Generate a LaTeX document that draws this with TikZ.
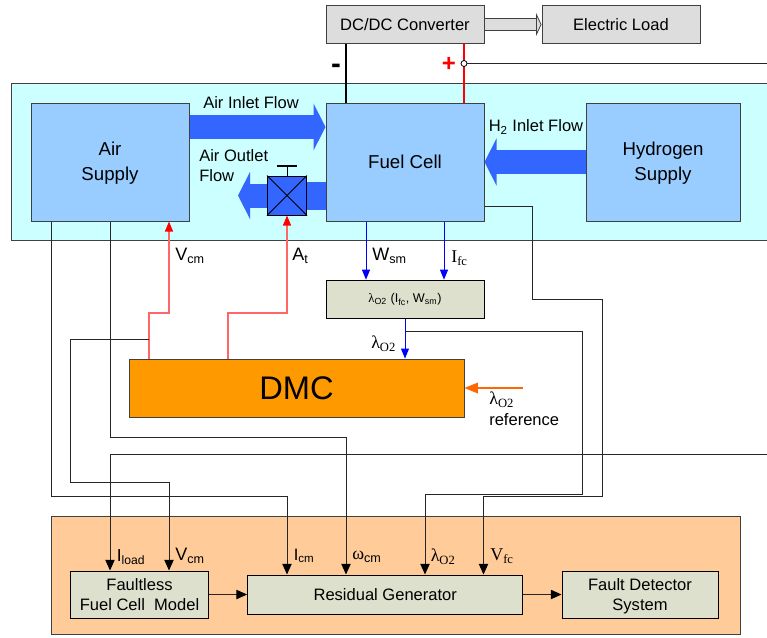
\documentclass[tikz,border=0pt]{standalone}
\usepackage{fontspec}
\usepackage{xcolor}
\setmainfont{Liberation Sans}
\newfontfamily\serif{Liberation Serif}
\usetikzlibrary{arrows.meta}
\definecolor{panelc}{HTML}{CCFFFF}
\definecolor{cellc}{HTML}{99CCFF}
\definecolor{flowc}{HTML}{3366FF}
\definecolor{greyc}{HTML}{DDDDDD}
\definecolor{calcc}{HTML}{DDE0CC}
\definecolor{dmcc}{HTML}{FF9900}
\definecolor{peachc}{HTML}{FFCC99}
\definecolor{refc}{HTML}{FF6600}
\newcommand{\lam}{{\serif λ\textsubscript{O2}}}
\newcommand{\lastline}[1]{\smash{#1}\rule[-1.5pt]{0pt}{1.5pt}}
\tikzset{
  block/.style={draw=black!75, line width=0.75pt, inner sep=0pt, align=center, font=\fontsize{12.4}{15}\selectfont},
  panel/.style={block},
  cell/.style={block, fill=cellc, minimum width=118.5pt, minimum height=88.5pt, font=\fontsize{14}{18.5}\selectfont},
  grey/.style={block, fill=greyc, minimum width=118.5pt, minimum height=29pt},
  calc/.style={block, fill=calcc, draw=black},
  label/.style={anchor=west, inner sep=0pt, align=left, font=\fontsize{12.4}{15}\selectfont},
  flow/.style={draw=flowc, line width=18pt, -{Triangle[length=9pt,width=35pt]}},
  wire/.style={draw=black!85, line width=0.75pt},
  sense/.style={wire, -{Triangle[length=8pt,width=7pt,color=black]}},
  bluewire/.style={draw=blue, line width=0.75pt, -{Triangle[length=7.5pt,width=6pt]}},
  redwire/.style={draw=red!60, line width=1pt, -{Triangle[length=7.5pt,width=6pt,color=red]}},
}
\begin{document}
\begin{tikzpicture}[x=0.75pt,y=-0.75pt]
\useasboundingbox (0,0) rectangle (767,637);
\node[panel, fill=panelc, minimum width=567pt, minimum height=118pt] (stack) at (389,162) {};
\node[panel, fill=peachc, minimum width=516.75pt, minimum height=88.5pt] (monitor) at (395.5,575) {};

\node[grey] (dcdc) at (405,24.5) {DC/DC Converter};
\node[grey] (load) at (621,24.5) {Electric Load};
\node[cell] (air) at (110,162) {Air\\\lastline{Supply}};
\node[cell] (fuel) at (405,162) {Fuel Cell};
\node[cell, minimum width=115.5pt] (hydrogen) at (663,162) {Hydrogen\\\lastline{Supply}};
\node[calc, minimum width=118.5pt, minimum height=29pt, font=\fontsize{9.5}{11}\selectfont] (ratio) at (405,299.5) {{\serif λ}\textsubscript{O2} (I\textsubscript{fc}, W\textsubscript{sm})};
\node[block, fill=dmcc, minimum width=251.25pt, minimum height=43.5pt, font=\fontsize{24.5}{28}\selectfont] (dmc) at (296.5,388) {DMC};
\node[calc, minimum width=103.5pt, minimum height=35.25pt] (model) at (139.5,594.5) {Faultless\\Fuel Cell~~Model};
\node[calc, minimum width=206.5pt, minimum height=29.25pt] (residual) at (385.25,594.5) {Residual Generator};
\node[calc, minimum width=117pt, minimum height=35.25pt] (detector) at (640,594.5) {Fault Detector\\\smash{System}};
\node[draw=black, line width=0.75pt, fill=flowc, minimum size=29.25pt, inner sep=0pt] (valve) at (287,195.5) {};
\coordinate (sensor) at (464,63.5);
\coordinate (stem) at (287,166);
\coordinate (refin) at (523,388);
\coordinate (busin) at (767,63.5);
\coordinate (busout) at (767,454);

\draw[double=greyc, double distance=8.5pt, draw=black!75, line width=0.6pt, -{Triangle[open,length=4pt,width=17pt,fill=greyc]}] (dcdc.east) -- (load.west);
\draw[draw=black, line width=1.1pt] (346,0 |- dcdc.south) -- (346,0 |- fuel.north);
\draw[draw=red, line width=1.1pt] (464,0 |- dcdc.south) -- (464,0 |- fuel.north);
\draw[wire] (sensor) -- (busin);
\draw[fill=white, line width=0.6pt] (sensor) circle (3);
\node[font=\bfseries\fontsize{22}{22}\selectfont, inner sep=0pt] (minus) at (336,69) {-};
\node[text=red, font=\bfseries\fontsize{18}{18}\selectfont, inner sep=0pt] (plus) at (449,64) {+};

\draw[flow] (air.east |- 0,127) -- (fuel.west |- 0,127);
\draw[flow] (hydrogen.west |- 0,162) -- (fuel.east |- 0,162);
\draw[draw=flowc, line width=21pt] (fuel.west |- valve) -- (valve.east);
\draw[flow] (valve.west) -- (238,0 |- valve);
\draw[line width=0.75pt] (valve.north west) -- (valve.south east);
\draw[line width=0.75pt] (valve.south west) -- (valve.north east);
\draw[line width=0.75pt] (valve.north) -- (stem);
\draw[line width=1pt] (277,166) -- (297,166);

\draw[bluewire] (366,0 |- fuel.south) -- (366,0 |- ratio.north);
\draw[bluewire] (444,0 |- fuel.south) -- (444,0 |- ratio.north);
\draw[bluewire] (ratio.south) -- (dmc.north -| ratio.south);
\draw[redwire] (149,0 |- dmc.north) -- (149,313) -- (169,313) -- (169,0 |- air.south);
\draw[redwire] (228,0 |- dmc.north) -- (228,313) -- (287,313) -- (valve.south);
\draw[draw=refc, line width=0.9pt, -{Triangle[length=10pt,width=8pt]}] (refin) -- (dmc.east |- refin);

\draw[sense] (busout) -- (110,454) -- (110,0 |- model.north);
\draw[sense] (149,339) -- (70.5,339) -- (70.5,482) -- (169,482) -- (169,0 |- model.north);
\draw[sense] (51,0 |- air.south) -- (51,496) -- (287,496) -- (287,0 |- residual.north);
\draw[sense] (110,0 |- air.south) -- (110,437.5) -- (346,437.5) -- (346,0 |- residual.north);
\draw[sense] (405,331) -- (582,331) -- (582,494) -- (425,494) -- (425,0 |- residual.north);
\draw[sense] (fuel.east |- 0,206) -- (532,206) -- (532,299) -- (602,299) -- (602,496) -- (483.5,496) -- (483.5,0 |- residual.north);
\draw[sense] (model.east |- residual.west) -- (residual.west);
\draw[sense] (residual.east) -- (detector.west |- residual.east);

\node[label] (airin) at (203,103) {Air Inlet Flow};
\node[label] (h2in) at (488.5,127) {H\textsubscript{2} Inlet Flow};
\node[label] (airout) at (199,166) {Air Outlet\\Flow};
\node[label, font=\fontsize{13.5}{15}\selectfont] (vcm) at (175,256) {V\textsubscript{cm}};
\node[label, font=\fontsize{13.5}{15}\selectfont] (at) at (292,256) {A\textsubscript{t}};
\node[label, font=\fontsize{13.5}{15}\selectfont] (wsm) at (372,256) {W\textsubscript{sm}};
\node[label, font=\serif\fontsize{13.5}{15}\selectfont] (ifc) at (451,258) {I\textsubscript{fc}};
\node[label, font=\fontsize{13.5}{15}\selectfont] (lamout) at (371,344) {\lam};
\node[label] (lamref) at (489,409) {\fontsize{13.5}{15}\selectfont\lam\\[1pt]\fontsize{12.4}{15}\selectfont reference};
\node[label, font=\fontsize{13}{15}\selectfont] (iload) at (116.5,557) {I\textsubscript{load}};
\node[label, font=\fontsize{13.5}{15}\selectfont] (vcmb) at (175,556) {V\textsubscript{cm}};
\node[label] (icm) at (293.5,556) {I\textsubscript{cm}};
\node[label, font=\fontsize{13.5}{15}\selectfont] (wcm) at (352,557) {{\serif ω}\textsubscript{cm}};
\node[label, font=\fontsize{13.5}{15}\selectfont] (lamb) at (430.5,557) {\lam};
\node[label, font=\serif\fontsize{13.5}{15}\selectfont] (vfc) at (490,556) {V\textsubscript{fc}};
\end{tikzpicture}
\end{document}
